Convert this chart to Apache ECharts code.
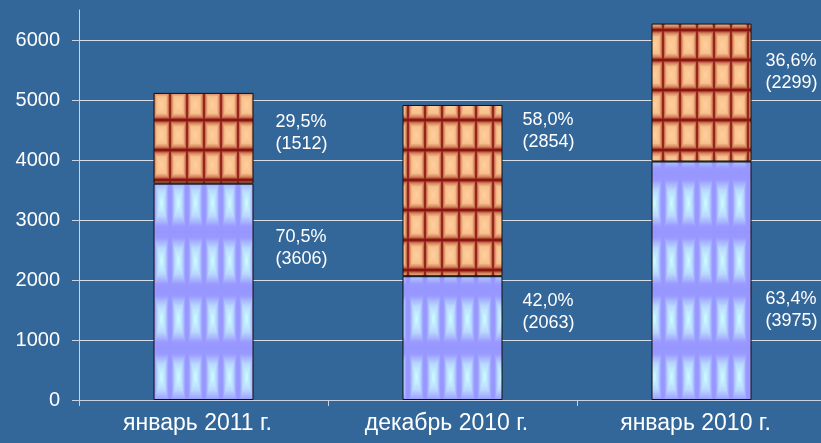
<!DOCTYPE html>
<html>
<head>
<meta charset="utf-8">
<script src="https://cdn.jsdelivr.net/npm/echarts@6/dist/echarts.min.js"></script>
<style>
  html, body { margin: 0; padding: 0; background: #336699; }
  #echarts { width: 821px; height: 443px; }
</style>
</head>
<body>
<div id="echarts"></div>
<script>
// данные
var categories = ['январь 2011 г.', 'декабрь 2010 г.', 'январь 2010 г.'];
var lowerValues = [3606, 2063, 3975];
var upperValues = [1512, 2854, 2299];

// сдвиги подписей относительно сегментов [dx, dy]
var lowerLabelOffset = [[17, -44], [15, -26], [9, 29]];
var upperLabelOffset = [[17, -5], [15, -60], [9, -20]];

function makeTile(w, h, stops) {
  var c = document.createElement('canvas');
  c.width = w; c.height = h;
  var ctx = c.getContext('2d');
  var img = ctx.createImageData(w, h);
  for (var y = 0; y < h; y++) {
    for (var x = 0; x < w; x++) {
      var ax = Math.abs(x + 0.5 - w / 2) / (w / 2);
      var ay = Math.abs(y + 0.5 - h / 2) / (h / 2);
      var t = Math.max(ax, ay);
      var col = stops[stops.length - 1][1];
      for (var k = 1; k < stops.length; k++) {
        if (t <= stops[k][0]) {
          var a = stops[k - 1], b = stops[k];
          var f = (t - a[0]) / (b[0] - a[0]);
          col = [0, 1, 2].map(function (j) { return a[1][j] + (b[1][j] - a[1][j]) * f; });
          break;
        }
      }
      var p = (y * w + x) * 4;
      img.data[p] = col[0]; img.data[p + 1] = col[1]; img.data[p + 2] = col[2]; img.data[p + 3] = 255;
    }
  }
  ctx.putImageData(img, 0, 0);
  return c;
}

var brownTile = makeTile(17, 30, [
  [0, [255, 208, 158]], [0.55, [248, 192, 140]], [0.8, [212, 128, 92]], [0.93, [155, 45, 32]], [1, [125, 0, 0]]
]);
var blueTile = makeTile(17, 58, [
  [0, [204, 255, 255]], [0.45, [185, 215, 255]], [0.8, [153, 153, 255]], [1, [150, 150, 255]]
]);

function pct(v, i) {
  var total = lowerValues[i] + upperValues[i];
  return (v / total * 100).toFixed(1).replace('.', ',') + '%\n(' + v + ')';
}

function buildData(values, offsets) {
  return values.map(function (v, i) {
    return { value: v, label: { offset: offsets[i] } };
  });
}

var font = 'Liberation Sans, Arial, sans-serif';
var myChart = echarts.init(document.getElementById('echarts'));
var option = {
  backgroundColor: '#336699',
  animation: false,
  grid: { left: 79, right: -5, top: 10, bottom: 43, outerBoundsMode: 'none', containLabel: false },
  xAxis: {
    type: 'category',
    data: categories,
    axisLine: { lineStyle: { color: '#c8d2e2', width: 1 } },
    axisTick: { show: true, length: 6, lineStyle: { color: '#c8d2e2' } },
    axisLabel: { color: '#ffffff', fontSize: 23, fontFamily: font, margin: 12, padding: [0, 12, 0, 0] }
  },
  yAxis: {
    type: 'value',
    min: 0,
    max: 6500,
    interval: 1000,
    axisLine: { show: true, lineStyle: { color: '#c8d2e2', width: 1 } },
    axisTick: { show: true, length: 7, lineStyle: { color: '#c8d2e2' } },
    axisLabel: {
      color: '#ffffff', fontSize: 20, fontFamily: font, margin: 19, showMaxLabel: false,
      formatter: function (v) { return String(v); }
    },
    splitLine: { show: true, showMaxLine: false, lineStyle: { color: '#d6deea', width: 1.2 } }
  },
  series: [
    {
      type: 'bar',
      stack: 'total',
      barWidth: 100,
      data: buildData(lowerValues, lowerLabelOffset),
      itemStyle: { color: { image: blueTile, repeat: 'repeat' }, borderColor: '#111', borderWidth: 1 },
      label: {
        show: true, position: 'right', distance: 5, align: 'left',
        color: '#ffffff', fontSize: 18, lineHeight: 22, fontFamily: font,
        formatter: function (p) { return pct(p.value, p.dataIndex); }
      }
    },
    {
      type: 'bar',
      stack: 'total',
      barWidth: 100,
      data: buildData(upperValues, upperLabelOffset),
      itemStyle: { color: { image: brownTile, repeat: 'repeat' }, borderColor: '#111', borderWidth: 1 },
      label: {
        show: true, position: 'right', distance: 5, align: 'left',
        color: '#ffffff', fontSize: 18, lineHeight: 22, fontFamily: font,
        formatter: function (p) { return pct(p.value, p.dataIndex); }
      }
    }
  ]
};
myChart.setOption(option);
</script>
</body>
</html>
